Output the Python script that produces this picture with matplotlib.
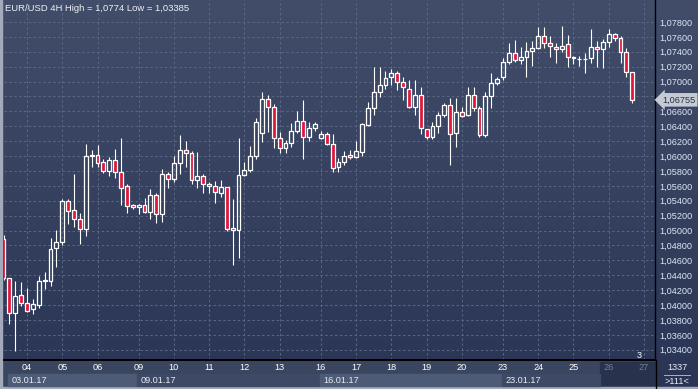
import numpy as np
import matplotlib
matplotlib.use("Agg")
import matplotlib.pyplot as plt
from matplotlib.patches import Rectangle
from matplotlib.transforms import blended_transform_factory

plt.rcParams["font.family"] = ["Liberation Sans", "DejaVu Sans"]

# EUR/USD 4H candles, 03.01.17 08:00 .. 26.01.17 16:00
opens = [
    1.04887, 1.04360, 1.03898, 1.04136, 1.04024, 1.03944, 1.04005, 1.04319, 1.04328, 1.04762,
    1.04843, 1.05393, 1.05272, 1.05152, 1.05017, 1.06000, 1.06011, 1.05917, 1.05804, 1.05944,
    1.05791, 1.05595, 1.05340, 1.05313, 1.05340, 1.05254, 1.05474, 1.05219, 1.05756, 1.05689,
    1.05903, 1.06078, 1.06038, 1.05679, 1.05729, 1.05621, 1.05595, 1.05501, 1.05581, 1.05035,
    1.05008, 1.05740, 1.05813, 1.06001, 1.06306, 1.06762, 1.06655, 1.06239, 1.06105, 1.06172,
    1.06341, 1.06471, 1.06252, 1.06373, 1.06239, 1.06297, 1.06158, 1.05850, 1.05917, 1.06011,
    1.05988, 1.06059, 1.06417, 1.06642, 1.06856, 1.06954, 1.07058, 1.07111, 1.06991, 1.06897,
    1.06663, 1.06820, 1.06364, 1.06252, 1.06408, 1.06552, 1.06686, 1.06306, 1.06596, 1.06552,
    1.06820, 1.06642, 1.06283, 1.06807, 1.06977, 1.07058, 1.07259, 1.07380, 1.07290, 1.07334,
    1.07415, 1.07455, 1.07612, 1.07514, 1.07468, 1.07434, 1.07501, 1.07334, 1.07299, 1.07299,
    1.07313, 1.07460, 1.07434, 1.07528, 1.07635, 1.07581, 1.07393, 1.07125,
]
highs = [
    1.04941, 1.04360, 1.04323, 1.04306, 1.04225, 1.04078, 1.04395, 1.04444, 1.04897, 1.05008,
    1.05420, 1.05420, 1.05760, 1.05232, 1.06162, 1.06082, 1.06149, 1.05957, 1.05984, 1.06091,
    1.06239, 1.05626, 1.05353, 1.05353, 1.05434, 1.05558, 1.05501, 1.05827, 1.05791, 1.06001,
    1.06283, 1.06203, 1.06072, 1.06051, 1.05756, 1.05648, 1.05666, 1.05675, 1.05590, 1.05424,
    1.06239, 1.05917, 1.06136, 1.06507, 1.06864, 1.06820, 1.06695, 1.06328, 1.06216, 1.06440,
    1.06609, 1.06753, 1.06462, 1.06462, 1.06341, 1.06328, 1.06293, 1.05979, 1.06072, 1.06082,
    1.06203, 1.06440, 1.06730, 1.07200, 1.07192, 1.07146, 1.07169, 1.07142, 1.07058, 1.07021,
    1.07021, 1.06923, 1.06364, 1.06462, 1.06596, 1.06717, 1.06776, 1.06776, 1.06663, 1.06932,
    1.06932, 1.06677, 1.06864, 1.07111, 1.07058, 1.07313, 1.07514, 1.07558, 1.07460, 1.07536,
    1.07549, 1.07735, 1.07729, 1.07612, 1.07522, 1.07740, 1.07626, 1.07344, 1.07344, 1.07388,
    1.07706, 1.07545, 1.07572, 1.07702, 1.07656, 1.07612, 1.07447, 1.07133,
]
lows = [
    1.04337, 1.03742, 1.03385, 1.03992, 1.03903, 1.03876, 1.03965, 1.04216, 1.04260, 1.04515,
    1.04803, 1.05089, 1.05044, 1.04820, 1.04928, 1.05858, 1.05858, 1.05769, 1.05733, 1.05702,
    1.05344, 1.05240, 1.05290, 1.05219, 1.05232, 1.05152, 1.05098, 1.05119, 1.05576, 1.05656,
    1.05756, 1.05858, 1.05626, 1.05576, 1.05509, 1.05501, 1.05366, 1.05455, 1.04999, 1.04534,
    1.04632, 1.05730, 1.05783, 1.05961, 1.06193, 1.06328, 1.06105, 1.06038, 1.06038, 1.06126,
    1.06306, 1.05961, 1.06203, 1.06341, 1.06230, 1.06149, 1.05783, 1.05791, 1.05881, 1.05961,
    1.05979, 1.06005, 1.06408, 1.06552, 1.06797, 1.06901, 1.06954, 1.06887, 1.06753, 1.06650,
    1.06552, 1.06293, 1.06225, 1.06225, 1.06306, 1.06521, 1.05881, 1.06126, 1.06529, 1.06542,
    1.06605, 1.06260, 1.06260, 1.06642, 1.06954, 1.07021, 1.07232, 1.07259, 1.07232, 1.07058,
    1.07213, 1.07438, 1.07455, 1.07334, 1.07254, 1.07401, 1.07200, 1.07232, 1.07213, 1.07111,
    1.07246, 1.07200, 1.07179, 1.07468, 1.07549, 1.07254, 1.07066, 1.06717,
]
closes = [
    1.04364, 1.03890, 1.04122, 1.04024, 1.03925, 1.04015, 1.04319, 1.04337, 1.04753, 1.04843,
    1.05393, 1.05267, 1.05152, 1.05017, 1.06001, 1.06008, 1.05911, 1.05804, 1.05944, 1.05791,
    1.05576, 1.05334, 1.05313, 1.05340, 1.05254, 1.05474, 1.05219, 1.05756, 1.05689, 1.05903,
    1.06078, 1.06038, 1.05679, 1.05729, 1.05626, 1.05595, 1.05514, 1.05581, 1.05017, 1.05008,
    1.05742, 1.05813, 1.06001, 1.06454, 1.06762, 1.06655, 1.06239, 1.06105, 1.06172, 1.06337,
    1.06471, 1.06252, 1.06373, 1.06431, 1.06297, 1.06158, 1.05836, 1.05917, 1.06001, 1.05988,
    1.06068, 1.06427, 1.06642, 1.06856, 1.06954, 1.07044, 1.07111, 1.06999, 1.06923, 1.06663,
    1.06820, 1.06373, 1.06252, 1.06408, 1.06552, 1.06686, 1.06297, 1.06596, 1.06542, 1.06820,
    1.06642, 1.06283, 1.06807, 1.06977, 1.07031, 1.07259, 1.07380, 1.07290, 1.07334, 1.07415,
    1.07455, 1.07612, 1.07514, 1.07482, 1.07434, 1.07482, 1.07334, 1.07313, 1.07307, 1.07307,
    1.07460, 1.07434, 1.07528, 1.07635, 1.07581, 1.07393, 1.07125, 1.06755,
]

# candle index of each day's 00:00 bar
day_pos = [4, 10, 16, 23, 29, 35, 41, 47, 54, 60, 66, 72, 78, 85, 91, 97, 103, 109]
day_labels = ["04", "05", "06", "09", "10", "11", "12", "13", "16", "17",
              "18", "19", "20", "23", "24", "25", "26", "27"]
week_pos = [0.75, 22.8, 53.8, 84.8]
week_labels = ["03.01.17", "09.01.17", "16.01.17", "23.01.17"]
price_ticks = np.arange(1.034, 1.0781, 0.002)
title = "EUR/USD 4H High = 1,0774 Low = 1,03385"

n = len(opens)
assert n == len(highs) == len(lows) == len(closes)

W, H = 698, 389
fig = plt.figure(figsize=(W / 100, H / 100), dpi=100)

# background gradient + bottom strip, in pixel coords
bg = fig.add_axes([0, 0, 1, 1])
top = np.array([0x41, 0x4d, 0x69]) / 255
bot = np.array([0x2a, 0x35, 0x55]) / 255
t = np.linspace(0, 1, 256)[:, None, None]
bg.imshow(top + (bot - top) * t, extent=[0, W, H, 0], aspect="auto")
bg.set_xlim(0, W)
bg.set_ylim(H, 0)
bg.axis("off")
bg.add_patch(Rectangle((0, 361), 655, 27, color="#3a4660"))
bg.add_patch(Rectangle((600, 362), 55, 25, color="#28324d"))
bg.add_patch(Rectangle((0, 387), W, 2, color="#a3abbb"))
bg.add_patch(Rectangle((0, 0), 1.5, H, color="#a3abbb"))
bg.plot([655.5, 655.5], [360, H], color="black", lw=1)
bg.plot([664, 690], [374.5, 374.5], color="#aab2c2", lw=0.7)

ax = fig.add_axes([4 / W, 29 / H, 651 / W, 360 / H])
ax.patch.set_alpha(0)

o = np.array(opens)
c = np.array(closes)
hi = np.array(highs)
lo = np.array(lows)
x = np.arange(n)
up = c >= o
body_lo = np.minimum(o, c)
body_hi = np.maximum(o, c)

ax.vlines(x, body_hi, hi, color="white", lw=0.8, zorder=2)
ax.vlines(x, lo, body_lo, color="white", lw=0.8, zorder=2)
face = ["none" if u else "#e0163b" for u in up]
ax.bar(x, np.maximum(body_hi - body_lo, 0.00002), bottom=body_lo, width=0.66,
       color=face, edgecolor="white", linewidth=0.9, zorder=3)

ax.set_xlim(0.085, 110.87)
ax.set_ylim(1.03263, 1.08095)

ax.set_xticks(day_pos, day_labels)
ax.tick_params(axis="x", length=0, pad=2.5, labelcolor="white", labelsize=6.6)
for lbl in ax.get_xticklabels()[-2:]:
    lbl.set_color("#737e96")

ax.yaxis.tick_right()
ax.set_yticks(price_ticks, [f"{v:.5f}".replace(".", ",") for v in price_ticks])
ax.tick_params(axis="y", length=0, pad=3, labelcolor="#dde5f5", labelsize=6.6)

ax.grid(True, color="#5b6885", ls=(0, (2.5, 2.5)), lw=0.7)
ax.set_axisbelow(True)
for s in ["left", "top"]:
    ax.spines[s].set_visible(False)
ax.spines["bottom"].set_color("black")
ax.spines["bottom"].set_linewidth(1.4)
ax.spines["right"].set_color("black")
ax.spines["right"].set_linewidth(1.0)

# week boxes under the day labels
xt = blended_transform_factory(ax.transData, ax.transAxes)
ends = week_pos[1:] + [101.5]
for k, (start, end) in enumerate(zip(week_pos, ends)):
    fc = "#4e5b77" if k % 2 == 0 else "#3d4965"
    ax.add_patch(Rectangle((start, -0.0736), end - start, 0.0347, transform=xt,
                           color=fc, clip_on=False, zorder=1))
    ax.text(start + 0.6, -0.056, week_labels[k], transform=xt, ha="left",
            va="center", color="#e6ebf4", fontsize=6.6, clip_on=False)

# last price tag
yt = blended_transform_factory(ax.transAxes, ax.transData)
ax.text(1.0 + 7 / 651, closes[-1], f"{closes[-1]:.5f}".replace(".", ","),
        transform=yt, ha="left", va="center", fontsize=6.6, color="#26314d",
        bbox=dict(boxstyle="larrow,pad=0.25", fc="#c5cad3", ec="none"),
        zorder=10, clip_on=False)

fig.text(5 / W, 1 - 8.5 / H, title, ha="left", va="center", color="#eef0f5",
         fontsize=6.8)
fig.text(639 / W, 1 - 355 / H, "3", ha="center", va="center", color="white",
         fontsize=6.6)
fig.text(677 / W, 1 - 367 / H, "1337", ha="center", va="center", color="#e8ecf4",
         fontsize=6.6)
fig.text(677 / W, 1 - 381 / H, ">111<", ha="center", va="center", color="#e8ecf4",
         fontsize=6.6)

fig.savefig("out.png", dpi=100)
